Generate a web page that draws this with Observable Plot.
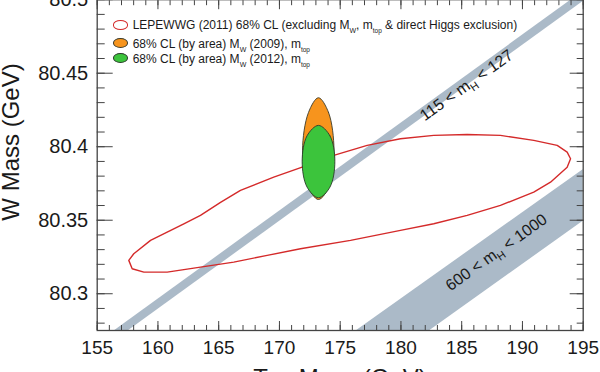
<!DOCTYPE html>
<html><head><meta charset="utf-8">
<script src="https://cdn.jsdelivr.net/npm/d3@7"></script>
<script src="https://cdn.jsdelivr.net/npm/@observablehq/plot@0.6"></script>
<style>
html,body{margin:0;padding:0;background:#fff;}
#wrap{position:relative;width:600px;height:372px;overflow:hidden;font-family:"Liberation Sans",Arial,sans-serif;color:#1a1a1a;}
#chart{position:absolute;left:0;top:-20px;}
.lg-mark{position:absolute;box-sizing:border-box;border-radius:50%;}
.lg-text{position:absolute;font-size:12px;line-height:12px;white-space:nowrap;}
.lg-text sub{font-size:7px;vertical-align:baseline;position:relative;top:4px;}
.lg-text sub.s{font-size:6.5px;}
.axt{position:absolute;font-size:24px;line-height:24px;text-align:center;white-space:nowrap;}
</style></head><body>
<div id="wrap"><div id="chart"></div></div>
<script>
// ---- data ----
const xTicks = [155,160,165,170,175,180,185,190,195];
const xTickLabels = ["155","160","165","170","175","180","185","190","195"];
const yTicks = [80.3,80.35,80.4,80.45,80.5];
const yTickLabels = ["80.3","80.35","80.4","80.45","80.5"];
const xMinor = d3.range(155,196);
const yMinor = d3.range(0,23).map(i => 80.28 + i*0.01);

// Higgs mass bands (mt, mW corners)
const bandLight = [[156.35,80.275],[193.94,80.5],[195.09,80.5],[157.50,80.275]];   // 115 < mH < 127
const bandHeavy = [[176.26,80.275],[195.0,80.385],[195.0,80.3499],[182.29,80.275]]; // 600 < mH < 1000
const bandLabels = [
  {x:185.40, y:80.4417, pre:"115 < m", sub:"H", post:" < 127"},
  {x:187.86, y:80.3281, pre:"600 < m", sub:"H", post:" < 1000"}
];

// LEPEWWG 2011 68% CL contour (mt, mW)
const lepContour = [
 [157.60,80.3227],[158.01,80.3272],[159.39,80.3363],[160.76,80.3419],[162.13,80.3476],[163.50,80.3533],
 [165.15,80.3621],[166.79,80.3703],[169.53,80.3793],[171.87,80.3861],[174.47,80.3941],[177.22,80.4009],
 [179.96,80.4054],[182.70,80.4077],[185.45,80.4083],[188.19,80.4077],[190.93,80.4043],[192.86,80.4009],
 [193.68,80.3963],[193.96,80.3918],
 [193.68,80.3861],[192.31,80.3759],[190.93,80.3691],[188.19,80.3601],[185.45,80.3533],[182.70,80.3476],
 [179.96,80.3431],[175.85,80.3363],[171.73,80.3306],[168.99,80.3261],[166.24,80.3215],[163.50,80.3181],
 [160.76,80.3147],[158.84,80.3147],[157.88,80.3170]
];
// 68% CL (by area) MW 2009 and 2012 with mtop
const mw2009 = [[173.21,80.4333],[174.04,80.4233],[174.49,80.3975],[174.12,80.3737],[173.21,80.3641],[172.31,80.3737],[171.90,80.3975],[172.39,80.4233]];
const mw2012 = [[173.21,80.4145],[174.16,80.4074],[174.56,80.3900],[174.16,80.3726],[173.21,80.3653],[172.27,80.3726],[171.87,80.3900],[172.27,80.4074]];

const legendItems = [
  {html:"LEPEWWG (2011) 68% CL (excluding M<sub>W</sub>, m<sub class='s'>top</sub> &amp; direct Higgs exclusion)", fill:"#fff", stroke:"#d42a2a", sw:1.6},
  {html:"68% CL (by area) M<sub>W</sub> (2009), m<sub class='s'>top</sub>", fill:"#f7941d", stroke:"#3b3b2b", sw:1},
  {html:"68% CL (by area) M<sub>W</sub> (2012), m<sub class='s'>top</sub>", fill:"#3cc43c", stroke:"#2b3b2b", sw:1}
];
const xTitle = "Top Mass (GeV)";
const yTitle = "W Mass (GeV)";

// ---- chart ----
const FONT = "Liberation Sans, Arial, sans-serif";
const BAND = "#abbac8";
const px = d => d[0], py = d => d[1];
const chart = Plot.plot({
  width: 600, height: 400,
  marginLeft: 96.7, marginRight: 17.3, marginTop: 19.2, marginBottom: 50,
  x: {domain: [155,195], label: null},
  y: {domain: [80.275,80.5], label: null},
  style: {fontFamily: FONT, color: "#1a1a1a", background: "transparent", overflow: "visible"},
  marks: [
    Plot.line(bandLight, {x: px, y: py, curve: "linear-closed", fill: BAND, stroke: "none", clip: true}),
    Plot.line(bandHeavy, {x: px, y: py, curve: "linear-closed", fill: BAND, stroke: "none", clip: true}),
    Plot.text(bandLabels, {x: "x", y: "y", text: d => d.pre + d.sub + d.post, rotate: -35.5, fontSize: 16, fill: "#1a1a1a"}),
    Plot.line(lepContour, {x: px, y: py, curve: "linear-closed", stroke: "#d42a2a", strokeWidth: 1.4}),
    Plot.line(mw2009, {x: px, y: py, curve: "catmull-rom-closed", fill: "#f7941d", stroke: "#3b3b2b", strokeWidth: 0.9}),
    Plot.line(mw2012, {x: px, y: py, curve: "catmull-rom-closed", fill: "#3cc43c", stroke: "#2b3b2b", strokeWidth: 0.9}),
    Plot.frame({stroke: "#444", strokeWidth: 1.3}),
    Plot.axisX({anchor: "bottom", ticks: xMinor, tickSize: -5, tickFormat: () => "", stroke: "#444", label: null}),
    Plot.axisX({anchor: "bottom", ticks: xTicks, tickSize: -9, tickFormat: () => "", stroke: "#444", label: null}),
    Plot.axisX({anchor: "top", ticks: xMinor, tickSize: -5, tickFormat: () => "", stroke: "#444", label: null}),
    Plot.axisX({anchor: "top", ticks: xTicks, tickSize: -9, tickFormat: () => "", stroke: "#444", label: null}),
    Plot.axisX({anchor: "bottom", ticks: xTicks, tickSize: 0, tickPadding: 10, tickFormat: d => xTickLabels[xTicks.indexOf(d)], fontSize: 19, fill: "#1a1a1a", label: null}),
    Plot.axisY({anchor: "left", ticks: yMinor, tickSize: -8, tickFormat: () => "", stroke: "#444", label: null}),
    Plot.axisY({anchor: "left", ticks: yTicks, tickSize: -16, tickFormat: () => "", stroke: "#444", label: null}),
    Plot.axisY({anchor: "right", ticks: yMinor, tickSize: -7, tickFormat: () => "", stroke: "#444", label: null}),
    Plot.axisY({anchor: "right", ticks: yTicks, tickSize: -14, tickFormat: () => "", stroke: "#444", label: null}),
    Plot.axisY({anchor: "left", ticks: yTicks, tickSize: 0, tickPadding: 9, tickFormat: d => yTickLabels[yTicks.indexOf(d)], fontSize: 20, fill: "#1a1a1a", label: null})
  ]
});
document.getElementById("chart").appendChild(chart);

// subscripts in band labels
d3.select(chart).selectAll("text").each(function() {
  const el = this;
  const lab = bandLabels.find(b => el.textContent === b.pre + b.sub + b.post);
  if (!lab) return;
  const s = d3.select(el);
  s.text(null);
  s.append("tspan").text(lab.pre);
  s.append("tspan").attr("dy", 4).attr("font-size", 11).text(lab.sub);
  s.append("tspan").attr("dy", -4).text(lab.post);
});

// legend
const wrap = document.getElementById("wrap");
const rows = [{cy:25, base:29.3, h:9.5}, {cy:43, base:48.3, h:10}, {cy:58, base:63.3, h:10}];
legendItems.forEach((it, i) => {
  const r = rows[i];
  const m = document.createElement("div");
  m.className = "lg-mark";
  Object.assign(m.style, {left:"112.8px", top:(r.cy - r.h/2)+"px", width:"15.5px", height:r.h+"px",
    background: it.fill, border: it.sw+"px solid "+it.stroke});
  wrap.appendChild(m);
  const t = document.createElement("div");
  t.className = "lg-text";
  t.innerHTML = it.html;
  Object.assign(t.style, {left:"132.7px", top:(r.base - 10.2)+"px"});
  wrap.appendChild(t);
});
// axis titles
const xt = document.createElement("div");
xt.className = "axt"; xt.textContent = xTitle;
Object.assign(xt.style, {left:"190px", width:"300px", top:"366px"});
wrap.appendChild(xt);
const yt = document.createElement("div");
yt.className = "axt"; yt.textContent = yTitle;
Object.assign(yt.style, {left:"-88.8px", width:"200px", top:"129.5px", transform:"rotate(-90deg)"});
wrap.appendChild(yt);
</script>
</body></html>
